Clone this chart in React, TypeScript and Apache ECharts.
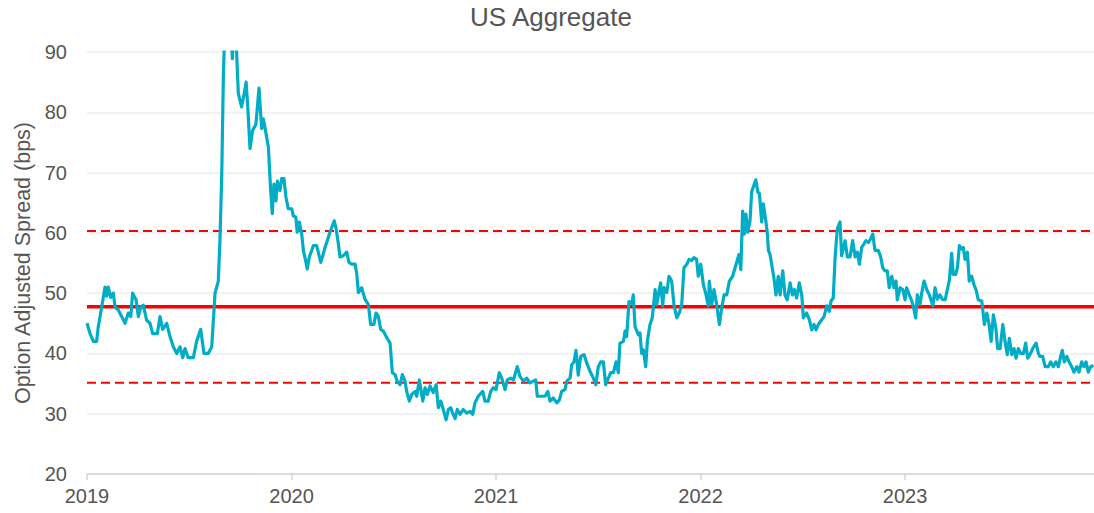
import React, { useEffect, useRef } from "react";
import * as echarts from "echarts";

// Option-adjusted spread (bps), [decimal year, value]
const SPREAD_2019: [number, number][] = [
  [2019.0, 45.0], [2019.015, 43.3], [2019.031, 42], [2019.047, 42], [2019.055, 44.4], [2019.072, 47.7],
  [2019.088, 51], [2019.096, 49.5], [2019.104, 51], [2019.116, 49.3], [2019.129, 50], [2019.137, 47.7],
  [2019.153, 47.2], [2019.17, 46.1], [2019.186, 45], [2019.202, 46.7], [2019.214, 46.1], [2019.223, 50],
  [2019.24, 48.9], [2019.251, 46.1], [2019.263, 47.7], [2019.275, 48], [2019.292, 45.5], [2019.308, 45],
  [2019.321, 43.3], [2019.333, 43.3], [2019.344, 43.3], [2019.357, 46.1], [2019.37, 44], [2019.39, 45],
  [2019.406, 42.8], [2019.422, 41.1], [2019.439, 40], [2019.455, 41.1], [2019.468, 39.3], [2019.479, 40.8],
  [2019.495, 39.3], [2019.52, 39.3], [2019.536, 42], [2019.556, 44], [2019.572, 40], [2019.593, 40],
  [2019.61, 41.1], [2019.626, 50], [2019.642, 52], [2019.65, 58.6], [2019.659, 69.8], [2019.667, 86.3],
  [2019.675, 95], [2019.687, 101], [2019.699, 96], [2019.711, 88.9], [2019.719, 95], [2019.729, 92],
  [2019.74, 83.1], [2019.756, 80.9], [2019.768, 83], [2019.778, 85], [2019.786, 80.9], [2019.797, 74],
  [2019.81, 77], [2019.826, 78], [2019.841, 84], [2019.854, 77.3], [2019.862, 78.9], [2019.87, 77.5],
  [2019.887, 74.2], [2019.898, 67], [2019.906, 63.2], [2019.914, 68.1], [2019.924, 65.3], [2019.931, 68.6],
  [2019.944, 67], [2019.952, 69], [2019.963, 69], [2019.973, 65.9], [2019.984, 64],
];

const SPREAD_2020: [number, number][] = [
  [2020.001, 64], [2020.009, 62.8], [2020.021, 62.6], [2020.028, 60.1], [2020.038, 61.8], [2020.05, 59.8],
  [2020.058, 57.1], [2020.069, 55.4], [2020.077, 54], [2020.087, 56], [2020.099, 57.1], [2020.107, 57.9],
  [2020.123, 57.9], [2020.131, 56.8], [2020.143, 55.1], [2020.153, 56.2], [2020.164, 57.6], [2020.175, 58.7],
  [2020.188, 60.1], [2020.2, 61.2], [2020.209, 62], [2020.218, 60.7], [2020.229, 58.2], [2020.237, 56],
  [2020.253, 56.2], [2020.27, 56.8], [2020.281, 55.1], [2020.294, 54.8], [2020.311, 54.8], [2020.319, 53.2],
  [2020.327, 50.1], [2020.343, 50.9], [2020.359, 49], [2020.376, 48.1], [2020.387, 44.8], [2020.403, 44.8],
  [2020.413, 46.7], [2020.424, 46.2], [2020.436, 44], [2020.449, 43.7], [2020.466, 42.6], [2020.482, 41.7],
  [2020.493, 36.8], [2020.506, 36.5], [2020.517, 35.4], [2020.531, 34.8], [2020.542, 36.5], [2020.555, 35.4],
  [2020.563, 33.7], [2020.576, 32.1], [2020.588, 33.2], [2020.604, 33.7], [2020.612, 32.9], [2020.625, 35.6],
  [2020.642, 32.1], [2020.653, 34.3], [2020.664, 33.2], [2020.677, 34.6], [2020.693, 33.5], [2020.707, 34.8],
  [2020.718, 31], [2020.73, 32.1], [2020.742, 30.7], [2020.756, 29], [2020.767, 30.7], [2020.778, 31],
  [2020.788, 30.1], [2020.8, 29.2], [2020.811, 30.7], [2020.824, 29.9], [2020.84, 30.7], [2020.857, 30.1],
  [2020.873, 30.4], [2020.886, 29.9], [2020.897, 31.8], [2020.913, 32.9], [2020.935, 33.7], [2020.946, 32.1],
  [2020.962, 32.1], [2020.974, 33.7], [2020.987, 34.3],
];

const SPREAD_2021: [number, number][] = [
  [2021.0, 34], [2021.016, 36.8], [2021.028, 35.9], [2021.044, 34], [2021.055, 35.6], [2021.072, 35.9],
  [2021.085, 35.6], [2021.104, 37.8], [2021.117, 36.2], [2021.134, 35.4], [2021.15, 35.9], [2021.166, 35.1],
  [2021.182, 35.4], [2021.194, 35.6], [2021.202, 32.9], [2021.224, 32.9], [2021.24, 32.9], [2021.253, 33.7],
  [2021.264, 32.1], [2021.28, 32.6], [2021.297, 31.8], [2021.31, 32.3], [2021.321, 33.7], [2021.337, 34],
  [2021.346, 35.4], [2021.362, 35.9], [2021.37, 38.1], [2021.381, 38.6], [2021.391, 40.5], [2021.402, 36.4],
  [2021.414, 39.5], [2021.43, 39.8], [2021.444, 38.4], [2021.46, 37], [2021.476, 35.9], [2021.488, 34.8],
  [2021.5, 37.8], [2021.512, 38.6], [2021.525, 38.6], [2021.536, 34.8], [2021.549, 35.9], [2021.561, 36.8],
  [2021.574, 36.8], [2021.587, 38.6], [2021.598, 36.8], [2021.606, 41.7], [2021.623, 42], [2021.631, 43.7],
  [2021.639, 42.8], [2021.65, 48.6], [2021.664, 48.3], [2021.671, 49.7], [2021.68, 44.4], [2021.696, 43.1],
  [2021.704, 43.4], [2021.712, 40], [2021.72, 40.6], [2021.732, 37.8], [2021.74, 42], [2021.753, 44.8],
  [2021.764, 45.9], [2021.778, 50.6], [2021.786, 48.1], [2021.794, 49.7], [2021.805, 51.7], [2021.815, 47.9],
  [2021.822, 50.9], [2021.835, 50.1], [2021.846, 52.8], [2021.859, 52], [2021.87, 48.1], [2021.884, 45.9],
  [2021.896, 46.7], [2021.908, 48.1], [2021.919, 54.2], [2021.933, 54.8], [2021.944, 55.6], [2021.957, 55.4],
  [2021.968, 55.9], [2021.981, 55.6], [2021.989, 52.8],
];

const SPREAD_2022: [number, number][] = [
  [2022.001, 54.8], [2022.014, 51.4], [2022.027, 49.7], [2022.038, 47.9], [2022.043, 52], [2022.055, 48.1],
  [2022.066, 50.6], [2022.079, 48.1], [2022.092, 44.8], [2022.104, 47.6], [2022.115, 49.7], [2022.128, 49.7],
  [2022.141, 52], [2022.157, 52.8], [2022.174, 54.8], [2022.188, 56.4], [2022.197, 53.9], [2022.206, 63.6],
  [2022.214, 59.8], [2022.222, 63.1], [2022.231, 60.1], [2022.242, 62], [2022.25, 66.8], [2022.258, 67.6],
  [2022.27, 68.8], [2022.28, 66.8], [2022.288, 66.5], [2022.299, 61.8], [2022.307, 64.8], [2022.32, 61.8],
  [2022.327, 59.8], [2022.332, 57.1], [2022.34, 56.4], [2022.353, 53.7], [2022.359, 52.5], [2022.369, 49.7],
  [2022.38, 52.8], [2022.389, 49.7], [2022.402, 53.7], [2022.413, 49.7], [2022.424, 48.9], [2022.438, 51.7],
  [2022.449, 49.7], [2022.459, 50.6], [2022.47, 49.2], [2022.483, 51.7], [2022.495, 49.7], [2022.503, 45.9],
  [2022.519, 46.7], [2022.532, 45.6], [2022.544, 43.9], [2022.555, 44.8], [2022.565, 43.9], [2022.576, 44.8],
  [2022.593, 45.6], [2022.604, 46.1], [2022.617, 47.9], [2022.63, 47], [2022.638, 48.7], [2022.649, 49.2],
  [2022.658, 55.9], [2022.669, 60.7], [2022.682, 61.8], [2022.69, 56.2], [2022.707, 58.7], [2022.718, 56],
  [2022.731, 56], [2022.744, 58.7], [2022.756, 56], [2022.767, 56.8], [2022.777, 54.8], [2022.788, 57.6],
  [2022.8, 58.2], [2022.809, 58.7], [2022.821, 58.4], [2022.832, 59], [2022.842, 59.8], [2022.853, 57.1],
  [2022.869, 57.1], [2022.881, 56], [2022.891, 54.2], [2022.902, 53.7], [2022.913, 53.7], [2022.923, 50.9],
  [2022.935, 52.8], [2022.946, 50.9], [2022.956, 52], [2022.962, 48.9], [2022.976, 50.9], [2022.989, 50.6],
];

const SPREAD_2023: [number, number][] = [
  [2023.0, 48.9], [2023.008, 50.9], [2023.021, 49.7], [2023.033, 48.7], [2023.044, 47.3], [2023.052, 45.9],
  [2023.06, 49.7], [2023.073, 48.1], [2023.082, 50.1], [2023.093, 52], [2023.106, 50.6], [2023.119, 49.7],
  [2023.136, 47.9], [2023.147, 50.9], [2023.158, 49], [2023.171, 49.7], [2023.184, 48.9], [2023.196, 48.9],
  [2023.207, 50.6], [2023.217, 52.2], [2023.228, 56.6], [2023.236, 53.1], [2023.248, 53.1], [2023.256, 54.2],
  [2023.266, 57.9], [2023.277, 57.3], [2023.285, 57.6], [2023.293, 55.6], [2023.305, 56.8], [2023.314, 52],
  [2023.326, 52.8], [2023.337, 51.4], [2023.347, 50.6], [2023.358, 48.9], [2023.375, 48.7], [2023.383, 46.4],
  [2023.388, 44.8], [2023.4, 46.7], [2023.411, 44.8], [2023.421, 42], [2023.432, 46.4], [2023.444, 44.2],
  [2023.453, 40.8], [2023.465, 40.8], [2023.478, 44.8], [2023.489, 42], [2023.5, 39.8], [2023.51, 42.5],
  [2023.522, 39.8], [2023.533, 40.8], [2023.543, 39.2], [2023.554, 40.8], [2023.566, 40], [2023.579, 40],
  [2023.59, 41.7], [2023.6, 39.2], [2023.611, 39.8], [2023.624, 40.8], [2023.641, 41.7], [2023.652, 40],
  [2023.66, 39.5], [2023.673, 39.5], [2023.685, 37.8], [2023.701, 37.8], [2023.712, 38.6], [2023.725, 37.8],
  [2023.738, 38.6], [2023.75, 37.8], [2023.761, 39.5], [2023.769, 40.5], [2023.779, 38.6], [2023.791, 39.5],
  [2023.802, 38.6], [2023.815, 37.8], [2023.826, 36.9], [2023.84, 37.8], [2023.851, 36.9], [2023.864, 38.6],
  [2023.875, 37.8], [2023.885, 38.6], [2023.896, 36.9], [2023.908, 37.8], [2023.921, 38],
];

// Reference levels (bps): average and +/- one standard deviation
const MEAN_LEVEL = 47.75;
const UPPER_LEVEL = 60.3;
const LOWER_LEVEL = 35.15;

const X_START = 2019;
const X_END = 2023.924;
const X_TICK_LABELS = ["2019", "2020", "2021", "2022", "2023"];

const FONT = "'Liberation Sans', Arial, Helvetica, sans-serif";
const TEXT_COLOR = "#555555";

export default function App() {
  const ref = useRef<HTMLDivElement>(null);

  useEffect(() => {
    if (!ref.current) return;
    const chart = echarts.init(ref.current, null, { renderer: "svg" });
    const spread = [...SPREAD_2019, ...SPREAD_2020, ...SPREAD_2021, ...SPREAD_2022, ...SPREAD_2023];
    const level = (v: number) => [
      [X_START, v],
      [X_END, v],
    ];
    chart.setOption({
      animation: false,
      textStyle: { fontFamily: FONT },
      title: {
        text: "US Aggregate",
        left: 470,
        top: 4,
        padding: 0,
        textStyle: { fontFamily: FONT, fontSize: 26, fontWeight: "normal", color: TEXT_COLOR },
      },
      grid: { left: 87, right: 0, top: 52, bottom: 39, containLabel: false },
      xAxis: {
        type: "value",
        min: X_START,
        max: X_END,
        interval: 1,
        axisLine: { show: true, lineStyle: { color: "#d4d4d4", width: 1.5 } },
        axisTick: { show: true, length: 6, lineStyle: { color: "#d4d4d4", width: 1.5 } },
        splitLine: { show: false },
        axisLabel: {
          fontFamily: FONT,
          fontSize: 20,
          color: TEXT_COLOR,
          margin: 12,
          showMaxLabel: false,
          formatter: (v: number) => {
            const i = Math.round(v) - X_START;
            return Math.abs(v - Math.round(v)) < 1e-6 && X_TICK_LABELS[i] ? X_TICK_LABELS[i] : "";
          },
        },
      },
      yAxis: {
        type: "value",
        min: 20,
        max: 90,
        interval: 10,
        name: "Option Adjusted Spread (bps)",
        nameLocation: "middle",
        nameGap: 42,
        nameTextStyle: { fontFamily: FONT, fontSize: 21.5, color: TEXT_COLOR },
        axisLine: { show: false },
        axisTick: { show: false },
        splitLine: { show: true, lineStyle: { color: "#eeeeee", width: 1.5 } },
        axisLabel: { fontFamily: FONT, fontSize: 20, color: TEXT_COLOR, margin: 20 },
      },
      series: [
        {
          type: "line",
          data: level(UPPER_LEVEL),
          symbol: "none",
          silent: true,
          lineStyle: { color: "#ff0000", width: 2, type: [9, 5] },
          z: 1,
        },
        {
          type: "line",
          data: level(LOWER_LEVEL),
          symbol: "none",
          silent: true,
          lineStyle: { color: "#ff0000", width: 2, type: [9, 5] },
          z: 1,
        },
        {
          type: "line",
          data: level(MEAN_LEVEL),
          symbol: "none",
          silent: true,
          lineStyle: { color: "#ff0000", width: 3.5 },
          z: 1,
        },
        {
          type: "line",
          name: "US Aggregate",
          data: spread,
          symbol: "none",
          showSymbol: false,
          clip: true,
          lineStyle: { color: "#00adc6", width: 3.2, join: "round" },
          z: 2,
        },
      ],
    });
    return () => chart.dispose();
  }, []);

  return (
    <div
      ref={ref}
      style={{ position: "fixed", left: 0, top: 0, width: 1094, height: 513, background: "#ffffff" }}
    />
  );
}
